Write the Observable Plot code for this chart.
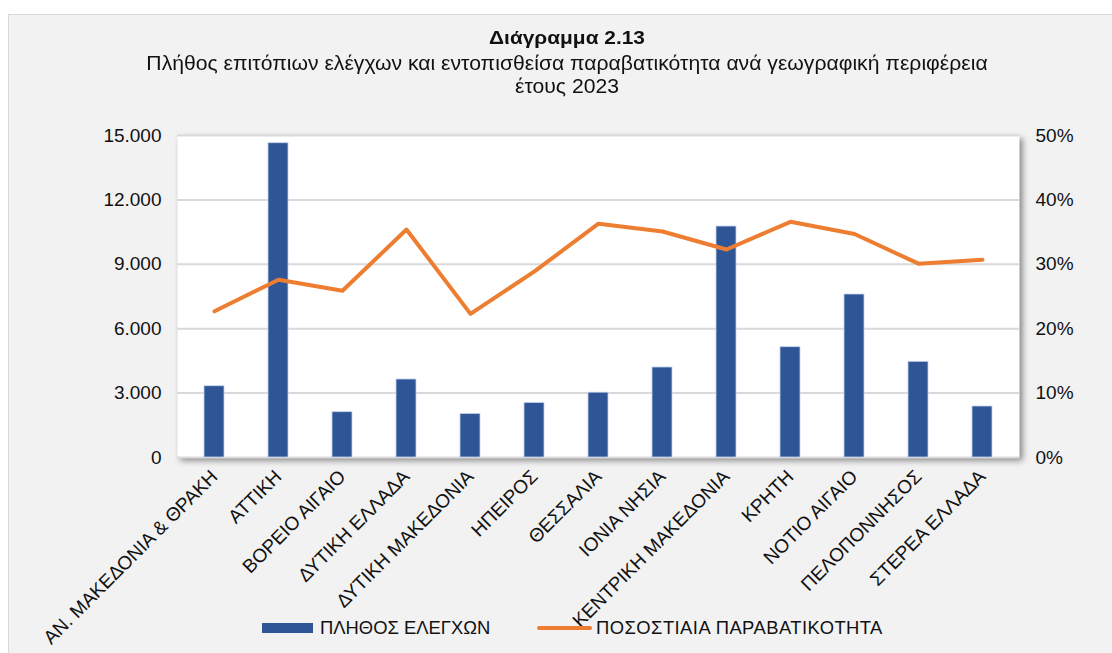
<!DOCTYPE html>
<html>
<head>
<meta charset="utf-8">
<script src="https://cdn.jsdelivr.net/npm/d3@7"></script>
<script src="https://cdn.jsdelivr.net/npm/@observablehq/plot@0.6"></script>
<style>
  html, body { margin: 0; padding: 0; background: #ffffff; }
  #page { position: relative; width: 1112px; height: 653px; overflow: hidden; font-family: "Liberation Sans", Arial, sans-serif; color: #111; }
  #panel { position: absolute; left: 8px; top: 14px; width: 1120px; height: 660px; background: #f2f2f2; border: 1px solid #d9d9d9; box-sizing: border-box; }
  #title { position: absolute; left: 0; width: 1134px; top: 29px; text-align: center; font-weight: bold; font-size: 18px; line-height: 18px; transform: scaleX(1.16); transform-origin: 567px 0; }
  #subtitle { position: absolute; left: 0; width: 1134px; top: 52px; text-align: center; font-size: 19.5px; line-height: 23.3px; transform: scaleX(1.085); transform-origin: 567px 0; }
  #chart { position: absolute; left: 0; top: 110px; }
  .lg { position: absolute; font-size: 18.4px; line-height: 18px; white-space: nowrap; }
</style>
</head>
<body>
<div id="page">
  <div id="panel"></div>
  <div id="title"></div>
  <div id="subtitle"></div>
  <div id="chart"></div>
  <div class="lg" id="sw1" style="left:262px; top:623px; width:51px; height:10px; background:#2f5597;"></div>
  <div class="lg" id="lg1" style="left:320px; top:619px;"></div>
  <div class="lg" id="sw2" style="left:537px; top:625.5px; width:55px; height:4px; border-radius:2px; background:#ed7d31;"></div>
  <div class="lg" id="lg2" style="left:596px; top:619px; letter-spacing:0.45px;"></div>
</div>
<script>
const titleText = "Διάγραμμα 2.13";
const subtitleLines = ["Πλήθος επιτόπιων ελέγχων και εντοπισθείσα παραβατικότητα ανά γεωγραφική περιφέρεια", "έτους 2023"];
const seriesNames = ["ΠΛΗΘΟΣ ΕΛΕΓΧΩΝ", "ΠΟΣΟΣΤΙΑΙΑ ΠΑΡΑΒΑΤΙΚΟΤΗΤΑ"];

const regions = [
  "ΑΝ. ΜΑΚΕΔΟΝΙΑ & ΘΡΑΚΗ", "ΑΤΤΙΚΗ", "ΒΟΡΕΙΟ ΑΙΓΑΙΟ", "ΔΥΤΙΚΗ ΕΛΛΑΔΑ", "ΔΥΤΙΚΗ ΜΑΚΕΔΟΝΙΑ",
  "ΗΠΕΙΡΟΣ", "ΘΕΣΣΑΛΙΑ", "ΙΟΝΙΑ ΝΗΣΙΑ", "ΚΕΝΤΡΙΚΗ ΜΑΚΕΔΟΝΙΑ", "ΚΡΗΤΗ",
  "ΝΟΤΙΟ ΑΙΓΑΙΟ", "ΠΕΛΟΠΟΝΝΗΣΟΣ", "ΣΤΕΡΕΑ ΕΛΛΑΔΑ"
];
const inspections = [3320, 14640, 2110, 3634, 2030, 2540, 3020, 4193, 10760, 5138, 7593, 4458, 2376];
const violationPct = [22.7, 27.6, 25.9, 35.4, 22.3, 28.9, 36.3, 35.1, 32.3, 36.6, 34.7, 30.1, 30.7];

const leftTicks = [0, 3000, 6000, 9000, 12000, 15000];
const rightTicks = [0, 10, 20, 30, 40, 50];

document.getElementById("title").textContent = titleText;
document.getElementById("subtitle").innerHTML = subtitleLines.map(s => s.replace(/&/g, "&amp;")).join("<br>");
document.getElementById("lg1").textContent = seriesNames[0];
document.getElementById("lg2").textContent = seriesNames[1];

const yMax = 15000, pctMax = 50;
const k = yMax / pctMax;
const data = regions.map((r, i) => ({region: r, n: inspections[i], pct: violationPct[i]}));
const fmtThousands = d => d3.format(",")(d).replace(/,/g, ".");

const chart = Plot.plot({
  width: 1112,
  height: 543,
  marginTop: 25,
  marginBottom: 196,
  marginLeft: 177,
  marginRight: 93,
  style: {fontFamily: '"Liberation Sans", Arial, sans-serif', fontSize: "19px", color: "#111", background: "transparent", overflow: "visible"},
  x: {domain: regions, paddingInner: 0.69, paddingOuter: 0.345},
  y: {domain: [0, yMax]},
  marks: [
    Plot.frame({fill: "white", stroke: null}),
    Plot.gridY(leftTicks, {stroke: "#d9d9d9", strokeOpacity: 1, strokeWidth: 2}),
    Plot.barY(data, {x: "region", y: "n", fill: "#2f5597", stroke: "#c5d3ee", strokeWidth: 0.8}),
    Plot.line(data, {x: "region", y: d => d.pct * k, stroke: "#ed7d31", strokeWidth: 4, strokeLinecap: "round", strokeLinejoin: "round"}),
    Plot.axisY(leftTicks, {anchor: "left", tickSize: 0, tickPadding: 16, tickFormat: fmtThousands, fontSize: 19, label: null, fill: "#111"}),
    Plot.axisY(rightTicks.map(p => p * k), {anchor: "right", tickSize: 0, tickPadding: 16, tickFormat: d => Math.round(d / k) + "%", fontSize: 19, label: null, fill: "#111"}),
    Plot.axisX({anchor: "bottom", tickSize: 0, tickPadding: 16, tickRotate: -45, fontSize: 19, label: null, fill: "#111"})
  ]
});
document.getElementById("chart").appendChild(chart);
const fr = chart.querySelector('[aria-label="frame"]');
if (fr) fr.style.filter = "drop-shadow(3px 3px 3px rgba(0,0,0,0.45))";
</script>
</body>
</html>
